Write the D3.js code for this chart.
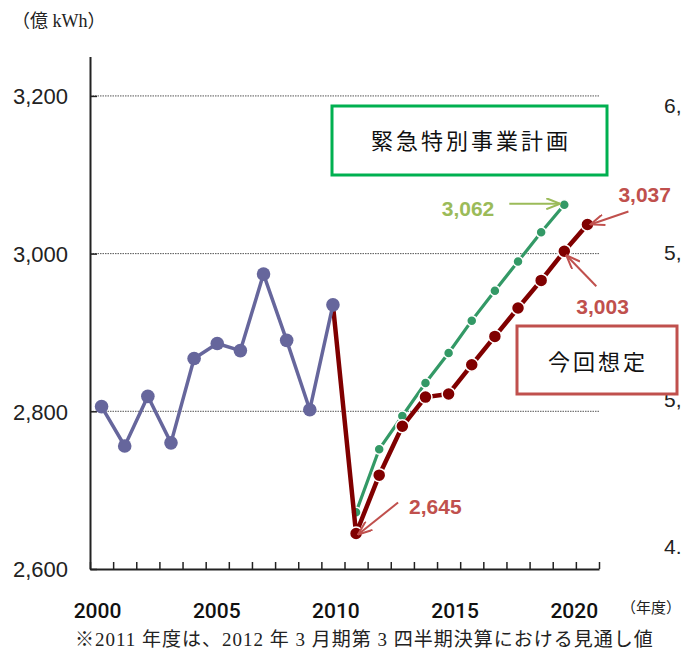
<!DOCTYPE html>
<html><head><meta charset="utf-8">
<script src="https://cdn.jsdelivr.net/npm/d3@7"></script>
<style>
html,body{margin:0;padding:0;background:#fff;}
svg{display:block;}
</style></head>
<body>
<svg id="chart" width="685" height="650"></svg>
<script>
// ---- data ----
const actualYears = [2000,2001,2002,2003,2004,2005,2006,2007,2008,2009,2010];
const actualValues = [2806,2756,2819,2760,2867,2886,2877,2974,2890,2802,2935];
const planYears = [2011,2012,2013,2014,2015,2016,2017,2018,2019,2020];
const planValues = [2672,2752,2794,2836,2874,2915,2953,2990,3027,3062];
const currentYears = [2010,2011,2012,2013,2014,2015,2016,2017,2018,2019,2020,2021];
const currentValues = [2935,2645,2719,2781,2818,2822,2859,2895,2931,2966,3003,3037];
const yTicks = [2600,2800,3000,3200];
const gridValues = [2800,3000,3200];
const yearLabels = [2000,2005,2010,2015,2020];
const rightLabels = ["6,","5,","5,","4."];
const unitLabel = "（億 kWh）";
const xUnitLabel = "（年度）";
const footnote = "※2011 年度は、2012 年 3 月期第 3 四半期決算における見通し値";
const planTitle = "緊急特別事業計画";
const currentTitle = "今回想定";

// ---- layout ----
const svg = d3.select("#chart");
const X0 = 90, X1 = 599, YB = 569, YT = 56.5;
const x = d3.scaleLinear().domain([1999.5, 2021.5]).range([X0, X1]);
const y = d3.scaleLinear().domain([2600, 3250]).range([YB, YT]);
const labelX = d3.scaleLinear().domain([2000, 2020]).range([x(2000) - 4, x(2020) + 10]);

const C = {
  blue: "#66669c", dark: "#800000", green: "#339966",
  boxGreen: "#00b050", red: "#c0504d", olive: "#9bbb59"
};
const sansJP = "'Noto Sans CJK JP', sans-serif";
const serifJP = "'Liberation Serif', 'Noto Sans CJK JP', serif";

// defs: arrowheads
const defs = svg.append("defs");
function arrowMarker(id, color) {
  defs.append("marker").attr("id", id)
    .attr("viewBox", "0 0 16 12").attr("refX", 15).attr("refY", 6)
    .attr("markerWidth", 16).attr("markerHeight", 12)
    .attr("markerUnits", "userSpaceOnUse").attr("orient", "auto")
    .append("path").attr("d", "M1,0.5 L15,6 L1,11.5")
    .attr("fill", "none").attr("stroke", color).attr("stroke-width", 2);
}
arrowMarker("arrRed", C.red);
arrowMarker("arrOlive", C.olive);

// gridlines
svg.append("g").selectAll("line").data(gridValues).join("line")
  .attr("x1", X0).attr("x2", X1)
  .attr("y1", d => y(d)).attr("y2", d => y(d))
  .attr("stroke", "#555").attr("stroke-width", 1).attr("stroke-dasharray", "1.5,1");

// x axis (ticks at category edges)
const edgeTicks = d3.range(1999.5, 2022, 1);
const xAxis = svg.append("g").attr("transform", `translate(0,${YB})`)
  .call(d3.axisBottom(x).tickValues(edgeTicks).tickSize(-7).tickSizeOuter(0).tickFormat(""));
xAxis.select(".domain").attr("stroke", "#222").attr("stroke-width", 2);
xAxis.selectAll(".tick line").attr("stroke", "#222").attr("stroke-width", 1.5);

// y axis
const yAxis = svg.append("g").attr("transform", `translate(${X0},0)`)
  .call(d3.axisLeft(y).tickValues(yTicks).tickSize(-7).tickSizeOuter(0)
    .tickPadding(22).tickFormat(d3.format(",")));
yAxis.select(".domain").attr("stroke", "#222").attr("stroke-width", 2);
yAxis.selectAll(".tick line").attr("stroke", "#222").attr("stroke-width", 1.5);
yAxis.selectAll(".tick text").attr("font-family", "'Liberation Sans', Arial, sans-serif")
  .attr("font-size", 22).attr("fill", "#222").attr("dy", "0.35em");

// year labels
svg.append("g").selectAll("text").data(yearLabels).join("text")
  .attr("x", d => labelX(d)).attr("y", 618)
  .attr("text-anchor", "middle")
  .attr("font-family", "Roboto, 'Liberation Sans', sans-serif").attr("font-weight", 500)
  .attr("font-size", 21).attr("fill", "#111").text(d => d);

// right partial labels
const rY = d3.scalePoint().domain(d3.range(rightLabels.length)).range([113, 554]);
svg.append("g").selectAll("text").data(rightLabels).join("text")
  .attr("x", 664).attr("y", (d, i) => rY(i))
  .attr("font-family", "'Liberation Sans', Arial, sans-serif")
  .attr("font-size", 21).attr("fill", "#222").text(d => d);

// unit labels & footnote
svg.append("text").attr("x", 12).attr("y", 27).attr("font-family", serifJP)
  .attr("font-size", 18).attr("fill", "#222").text(unitLabel);
svg.append("text").attr("x", 621).attr("y", 613).attr("font-family", serifJP)
  .attr("font-size", 15).attr("fill", "#222").text(xUnitLabel);
svg.append("text").attr("x", 75).attr("y", 646).attr("font-family", serifJP)
  .attr("font-size", 19).attr("letter-spacing", 1).attr("fill", "#222").text(footnote);

// line helper
const lineGen = (ys, vs) => d3.line().x((d, i) => x(ys[i])).y(d => y(d))(vs);

// plan (green)
svg.append("path").attr("d", lineGen(planYears, planValues))
  .attr("fill", "none").attr("stroke", C.green).attr("stroke-width", 3.2);
svg.append("g").selectAll("circle").data(planValues).join("circle")
  .attr("cx", (d, i) => x(planYears[i])).attr("cy", d => y(d)).attr("r", 5)
  .attr("fill", C.green).attr("stroke", "#fff").attr("stroke-width", 1.5);

// current (dark red)
svg.append("path").attr("d", lineGen(currentYears, currentValues))
  .attr("fill", "none").attr("stroke", C.dark).attr("stroke-width", 4.5)
  .attr("stroke-linejoin", "round");
svg.append("g").selectAll("circle").data(currentValues.slice(1)).join("circle")
  .attr("cx", (d, i) => x(currentYears[i + 1])).attr("cy", d => y(d)).attr("r", 6.5)
  .attr("fill", C.dark).attr("stroke", "#fff").attr("stroke-width", 1.5);

// actual (blue)
svg.append("path").attr("d", lineGen(actualYears, actualValues))
  .attr("fill", "none").attr("stroke", C.blue).attr("stroke-width", 3.5)
  .attr("stroke-linejoin", "round");
svg.append("g").selectAll("circle").data(actualValues).join("circle")
  .attr("cx", (d, i) => x(actualYears[i])).attr("cy", d => y(d)).attr("r", 6.8)
  .attr("fill", C.blue);

// boxes
svg.append("rect").attr("x", 332).attr("y", 106).attr("width", 275).attr("height", 69)
  .attr("fill", "#fff").attr("stroke", C.boxGreen).attr("stroke-width", 3);
svg.append("text").attr("x", 471).attr("y", 149).attr("text-anchor", "middle")
  .attr("font-family", sansJP).attr("font-size", 22).attr("letter-spacing", 3)
  .attr("fill", "#111").text(planTitle);
svg.append("rect").attr("x", 517).attr("y", 326).attr("width", 160).attr("height", 68)
  .attr("fill", "#fff").attr("stroke", C.red).attr("stroke-width", 3);
svg.append("text").attr("x", 598).attr("y", 370).attr("text-anchor", "middle")
  .attr("font-family", sansJP).attr("font-size", 22).attr("letter-spacing", 3)
  .attr("fill", "#111").text(currentTitle);

// annotations: value labels with arrows (positions relative to the data point)
const annotations = [
  {year: 2020, value: planValues[planYears.indexOf(2020)], color: C.olive, marker: "arrOlive",
   from: [-55, -1], to: [-4, -1], text: [-70, 11], anchor: "end"},
  {year: 2021, value: currentValues[currentYears.indexOf(2021)], color: C.red, marker: "arrRed",
   from: [41, -13], to: [3, 0], text: [31, -22], anchor: "start"},
  {year: 2020, value: currentValues[currentYears.indexOf(2020)], color: C.red, marker: "arrRed",
   from: [32, 35], to: [2, 4], text: [12, 63], anchor: "start"},
  {year: 2011, value: currentValues[currentYears.indexOf(2011)], color: C.red, marker: "arrRed",
   from: [42, -31], to: [2, 1], text: [53, -20], anchor: "start"}
];
const ann = svg.append("g");
annotations.forEach(a => {
  const px = x(a.year), py = y(a.value);
  ann.append("line")
    .attr("x1", px + a.from[0]).attr("y1", py + a.from[1])
    .attr("x2", px + a.to[0]).attr("y2", py + a.to[1])
    .attr("stroke", a.color).attr("stroke-width", 2)
    .attr("marker-end", `url(#${a.marker})`);
  ann.append("text").attr("x", px + a.text[0]).attr("y", py + a.text[1])
    .attr("text-anchor", a.anchor)
    .attr("font-family", "'Liberation Sans', Arial, sans-serif").attr("font-weight", "bold")
    .attr("font-size", 21).attr("fill", a.color).text(d3.format(",")(a.value));
});
</script>
</body></html>
